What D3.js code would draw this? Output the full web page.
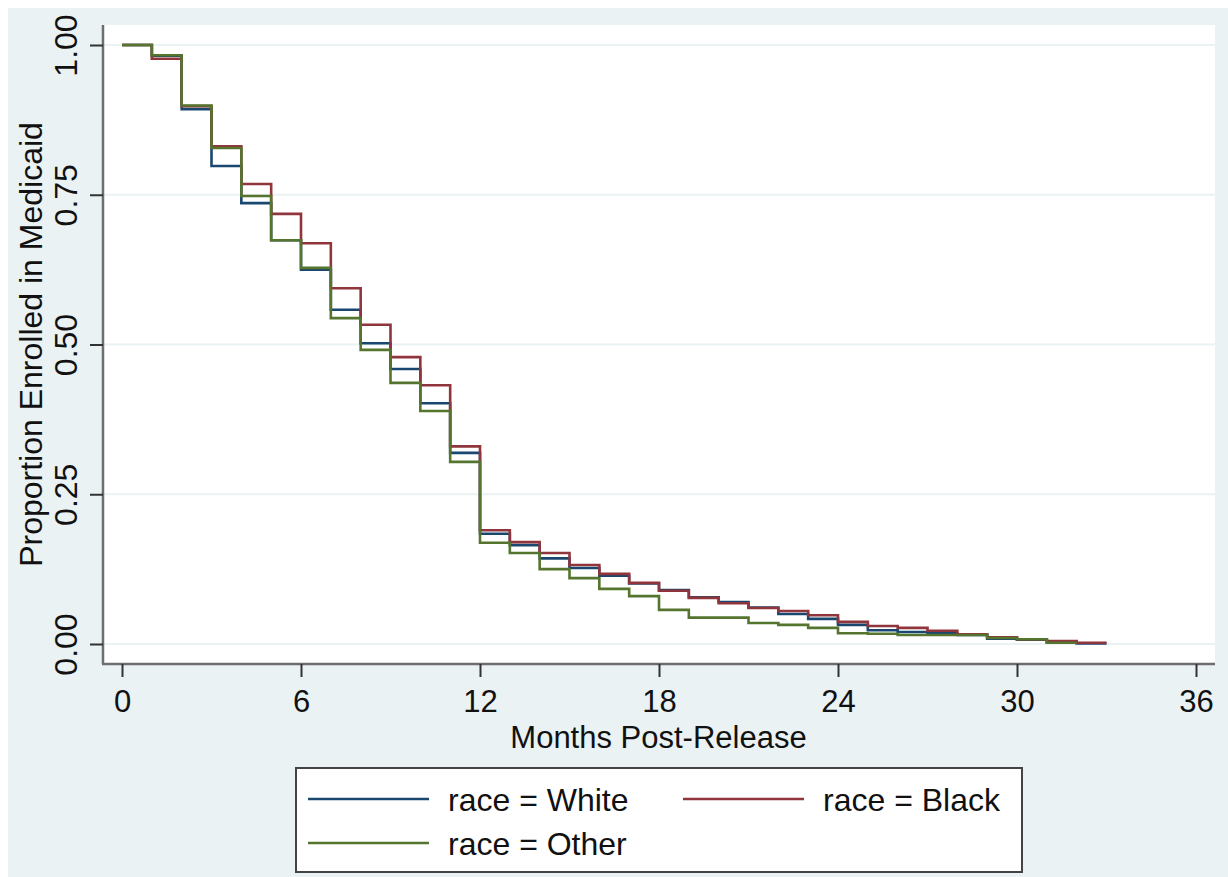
<!DOCTYPE html>
<html>
<head>
  <meta charset="UTF-8">
  <script src="https://cdn.jsdelivr.net/npm/d3@7"></script>
  <style>
    body { margin: 0; background: #fff; }
    text { font-family: "Liberation Sans", Arial, sans-serif; fill: #111; }
  </style>
</head>
<body>
  <script>
    // survival proportions, one value per month interval [k, k+1)
    var white = [1.000, 0.982, 0.893, 0.798, 0.736, 0.674, 0.625, 0.558, 0.502, 0.459,
      0.402, 0.319, 0.184, 0.165, 0.143, 0.127, 0.114, 0.101, 0.090, 0.078,
      0.070, 0.061, 0.050, 0.042, 0.032, 0.023, 0.020, 0.018, 0.015, 0.009,
      0.007, 0.003, 0.001];
    var black = [1.000, 0.977, 0.898, 0.831, 0.768, 0.718, 0.669, 0.594, 0.533, 0.479,
      0.432, 0.330, 0.190, 0.170, 0.152, 0.132, 0.117, 0.102, 0.089, 0.077,
      0.068, 0.060, 0.055, 0.048, 0.037, 0.030, 0.027, 0.022, 0.016, 0.011,
      0.008, 0.005, 0.002];
    var other = [1.000, 0.983, 0.899, 0.828, 0.748, 0.674, 0.628, 0.544, 0.491, 0.436,
      0.389, 0.304, 0.169, 0.152, 0.125, 0.110, 0.092, 0.080, 0.057, 0.044,
      0.044, 0.035, 0.032, 0.027, 0.018, 0.017, 0.015, 0.015, 0.015, 0.010,
      0.008, 0.002];

    var xTicks = [0, 6, 12, 18, 24, 30, 36];
    var yTicks = [0, 0.25, 0.5, 0.75, 1];
    var seriesNames = ["race = White", "race = Black", "race = Other"];

    var width = 1228;
    var height = 877;
    var bg = "#eaf2f3";
    var colors = ["#1a476f", "#90353b", "#55752f"];

    var svg = d3.select("body")
      .append("svg")
      .attr("width", width)
      .attr("height", height);

    // outer background
    svg.append("rect")
      .attr("x", 8).attr("y", 8)
      .attr("width", width - 8).attr("height", height - 8)
      .attr("fill", bg);

    // plot region
    var plot = { left: 102, right: 1215, top: 25, bottom: 663 };
    svg.append("rect")
      .attr("x", plot.left).attr("y", plot.top)
      .attr("width", plot.right - plot.left)
      .attr("height", plot.bottom - plot.top)
      .attr("fill", "#fff");

    var x = d3.scaleLinear().domain([0, 36]).range([122, 1196]);
    var y = d3.scaleLinear().domain([0, 1]).range([644, 45]);

    // gridlines
    svg.selectAll(".grid")
      .data(yTicks)
      .enter()
      .append("line")
      .attr("class", "grid")
      .attr("x1", plot.left + 2).attr("x2", plot.right)
      .attr("y1", function(d) { return y(d); })
      .attr("y2", function(d) { return y(d); })
      .attr("stroke", bg)
      .attr("stroke-width", 2);

    // y axis
    var yAxis = svg.append("g")
      .attr("transform", "translate(" + (plot.left + 1) + ",0)")
      .call(d3.axisLeft(y).tickValues(yTicks).tickSize(13).tickFormat(d3.format(".2f")));
    yAxis.select(".domain")
      .attr("d", "M0," + plot.top + "V" + (plot.bottom + 1))
      .attr("stroke", "#6e6e6e").attr("stroke-width", 2.5);
    yAxis.selectAll(".tick line").attr("stroke", "#333").attr("stroke-width", 2);
    yAxis.selectAll(".tick text")
      .attr("x", null).attr("dy", null)
      .attr("transform", "translate(-26,0) rotate(-90)")
      .attr("text-anchor", "middle")
      .attr("font-size", 32)
      .attr("font-family", "Liberation Sans, Arial, sans-serif")
      .attr("fill", "#111");

    // x axis
    var xAxis = svg.append("g")
      .attr("transform", "translate(0," + (plot.bottom + 1) + ")")
      .call(d3.axisBottom(x).tickValues(xTicks).tickSize(13));
    xAxis.select(".domain")
      .attr("d", "M" + plot.left + ",0H" + plot.right)
      .attr("stroke", "#6e6e6e").attr("stroke-width", 2.5);
    xAxis.selectAll(".tick line").attr("stroke", "#333").attr("stroke-width", 2);
    xAxis.selectAll(".tick text")
      .attr("y", 48).attr("dy", null)
      .attr("font-size", 31)
      .attr("font-family", "Liberation Sans, Arial, sans-serif")
      .attr("fill", "#111");

    // axis titles
    svg.append("text")
      .attr("x", (plot.left + plot.right) / 2)
      .attr("y", 748)
      .attr("text-anchor", "middle")
      .attr("font-size", 31)
      .text("Months Post-Release");

    svg.append("text")
      .attr("transform", "translate(42," + y(0.5) + ") rotate(-90)")
      .attr("text-anchor", "middle")
      .attr("font-size", 32)
      .text("Proportion Enrolled in Medicaid");

    // step curves
    var line = d3.line()
      .x(function(d) { return x(d[0]); })
      .y(function(d) { return y(d[1]); })
      .curve(d3.curveStepAfter);

    function toPoints(vals) {
      var pts = vals.map(function(v, i) { return [i, v]; });
      pts.push([vals.length, vals[vals.length - 1]]);
      return pts;
    }

    [white, black, other].forEach(function(vals, i) {
      svg.append("path")
        .datum(toPoints(vals))
        .attr("d", line)
        .attr("fill", "none")
        .attr("stroke", colors[i])
        .attr("stroke-width", 2.6);
    });

    // legend
    var legend = svg.append("g");
    legend.append("rect")
      .attr("x", 296).attr("y", 768)
      .attr("width", 726).attr("height", 104)
      .attr("fill", "#fff")
      .attr("stroke", "#444").attr("stroke-width", 2);

    var legendPos = [
      { x: 308, y: 799 },
      { x: 683, y: 799 },
      { x: 308, y: 843 }
    ];
    var items = legend.selectAll(".item")
      .data(seriesNames)
      .enter()
      .append("g")
      .attr("transform", function(d, i) {
        return "translate(" + legendPos[i].x + "," + legendPos[i].y + ")";
      });
    items.append("line")
      .attr("x1", 0).attr("x2", 121)
      .attr("y1", 0).attr("y2", 0)
      .attr("stroke", function(d, i) { return colors[i]; })
      .attr("stroke-width", 2.6);
    items.append("text")
      .attr("x", 140)
      .attr("y", 12)
      .attr("font-size", 32)
      .text(function(d) { return d; });
  </script>
</body>
</html>
